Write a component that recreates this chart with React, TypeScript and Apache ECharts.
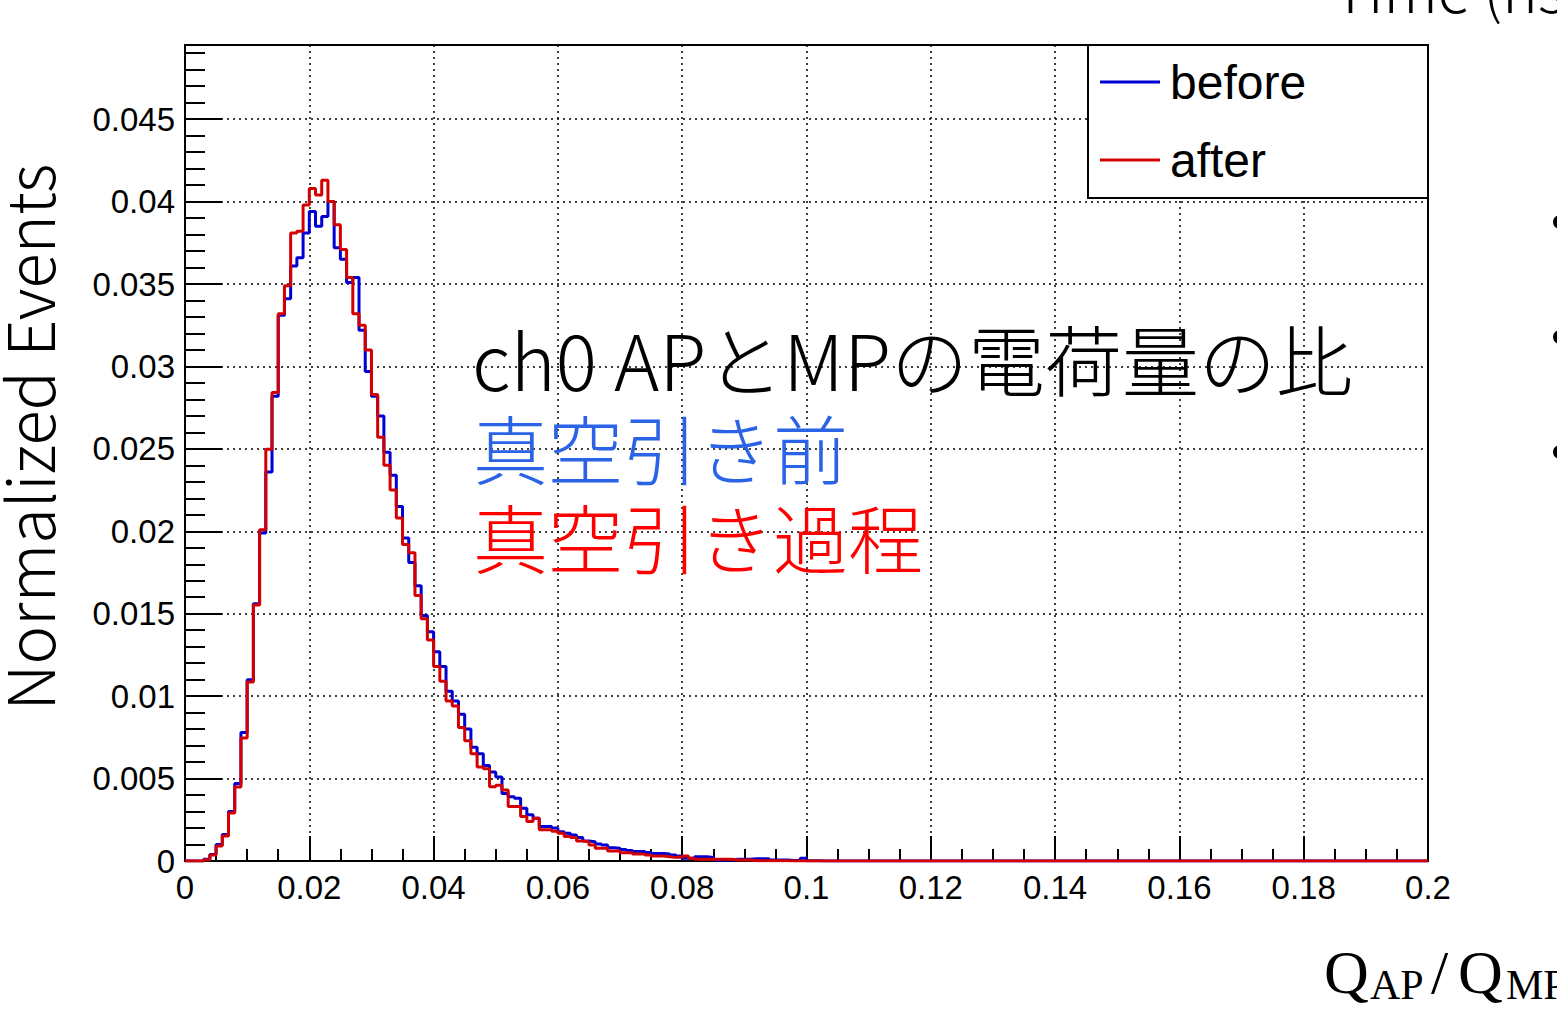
import React, { useEffect, useRef } from "react";
import * as echarts from "echarts";

// Histogram: bins of width 0.001 starting at 0 (bin i covers [i*0.001, (i+1)*0.001])
const BIN_WIDTH = 0.001;
const X_MIN = 0;
const X_MAX = 0.2;
const Y_MAX = 0.0495;

const beforeValues = [
  0, 0, 0, 0.0001, 0.0004, 0.001, 0.0016, 0.003, 0.0047, 0.0078,
  0.011, 0.0156, 0.0199, 0.0236, 0.0282, 0.0331, 0.0341, 0.0361, 0.0366, 0.0381,
  0.0394, 0.0385, 0.0391, 0.04, 0.0372, 0.0365, 0.0351, 0.0354, 0.0322, 0.0297,
  0.0282, 0.027, 0.0248, 0.0234, 0.0215, 0.0196, 0.0181, 0.0167, 0.0149, 0.0139,
  0.0127, 0.0118, 0.0103, 0.0097, 0.0089, 0.008, 0.0069, 0.0065, 0.0058, 0.0054,
  0.0051, 0.0041, 0.0039, 0.0038, 0.0032, 0.0028, 0.0026, 0.0021, 0.0021, 0.002,
  0.00178, 0.00168, 0.00157, 0.00143, 0.00121, 0.00117, 0.00103, 0.00097, 0.00081, 0.00077,
  0.0007, 0.00063, 0.00057, 0.00057, 0.00052, 0.00046, 0.00046, 0.00042, 0.00036, 0.0003,
  0.00016, 0.00016, 0.00026, 0.00026, 0.00022, 0.00006, 0.00006, 0.00006, 0.0001, 0.0001,
  0.0001, 0.00014, 0.00014, 0.00014, 0.00006, 0.00006, 0.00006, 0.00003, 0.00005, 0.00016,
  0.00002, 0.00002, 0, 0, 0, 0, 0, 0, 0, 0,
];

const afterValues = [
  0, 0, 0, 0.00008, 0.00036, 0.00091, 0.00152, 0.00291, 0.00449, 0.00746,
  0.01086, 0.01553, 0.0201, 0.02497, 0.02842, 0.0332, 0.0349, 0.0381, 0.0382, 0.0398,
  0.0408, 0.0404, 0.0413, 0.04, 0.0386, 0.0371, 0.0354, 0.0332, 0.0325, 0.031,
  0.0283, 0.0257, 0.024, 0.0225, 0.0208, 0.0192, 0.0187, 0.0161, 0.0147, 0.0134,
  0.0118, 0.0109, 0.0097, 0.0094, 0.0081, 0.0073, 0.0065, 0.0057, 0.0056, 0.0045,
  0.0046, 0.0043, 0.0033, 0.0033, 0.0027, 0.0024, 0.0026, 0.0019, 0.0019, 0.0018,
  0.00168, 0.00148, 0.00143, 0.00121, 0.00117, 0.00097, 0.00077, 0.00077, 0.0006, 0.0006,
  0.0005, 0.0005, 0.00042, 0.00042, 0.00036, 0.0003, 0.0003, 0.00026, 0.00022, 0.00022,
  0.0003, 0.00016, 0.0001, 0.0001, 0.0001, 0.0001, 0.0001, 0.0001, 0.00006, 0.00006,
  0.00006, 0.00002, 0.00002, 0.00002, 0.00002, 0.00002, 0.00002, 0, 0, 0,
  0, 0, 0, 0, 0, 0, 0, 0, 0, 0,
];

const seriesNames = ["before", "after"];
const xTickInterval = 0.02;
const yTickInterval = 0.005;
const yMinorInterval = 0.001;

const annotationLines = ["ch0 APとMPの電荷量の比", "真空引き前", "真空引き過程"];
const yAxisTitle = "Normalized Events";

const toSteps = (vals: number[]) => {
  const pts: number[][] = vals.map((v, i) => [X_MIN + i * BIN_WIDTH, v]);
  pts.push([X_MAX, 0]);
  return pts;
};

const fmt = (v: number, step: number) => {
  const r = Math.round(v * 100000) / 100000;
  const q = r / step;
  if (Math.abs(q - Math.round(q)) > 1e-6) return "";
  return String(r);
};

const SANS = "'Liberation Sans', Arial, Helvetica, sans-serif";
const JP = "'Noto Sans CJK JP', 'Noto Sans', sans-serif";
const SERIF = "'Liberation Serif', 'DejaVu Serif', serif";

export default function App() {
  const ref = useRef<HTMLDivElement>(null);
  useEffect(() => {
    if (!ref.current) return;
    const chart = echarts.init(ref.current, undefined, { renderer: "svg" });
    const gridL = 185, gridT = 45, gridW = 1243, gridH = 816;
    const txt = (text: string, x: number, y: number, size: number, fill: string, family: string, extra: any = {}, weight: any = "normal") => ({
      type: "text",
      x,
      y,
      z: 20,
      ...extra,
      style: {
        text,
        fill,
        fontSize: size,
        fontFamily: family,
        fontWeight: weight,
        textAlign: extra.align || "left",
        align: extra.align || "left",
        textVerticalAlign: "middle",
        verticalAlign: "middle",
      },
    });
    const option: any = {
      animation: false,
      backgroundColor: "#fff",
      grid: {
        left: gridL,
        top: gridT,
        width: gridW,
        height: gridH,
        show: true,
        borderColor: "#000",
        borderWidth: 2,
        backgroundColor: "transparent",
      },
      legend: {
        data: seriesNames,
        orient: "vertical",
        left: 1100,
        top: 58,
        icon: "rect",
        itemWidth: 60,
        itemHeight: 3,
        itemGap: 30,
        padding: 0,
        z: 30,
        textStyle: { fontSize: 48, fontFamily: SANS, color: "#000", lineHeight: 48, padding: [0, 0, 0, 5] },
      },
      xAxis: {
        type: "value",
        min: X_MIN,
        max: X_MAX,
        interval: xTickInterval,
        axisLine: { show: true, onZero: false, lineStyle: { color: "#000", width: 2 } },
        axisTick: { show: true, inside: true, length: 25, lineStyle: { color: "#000", width: 2 } },
        minorTick: { show: true, splitNumber: 4, length: 12, lineStyle: { color: "#000", width: 2 } },
        splitLine: { show: true, lineStyle: { color: "#000", width: 1.5, type: [2, 4] } },
        axisLabel: {
          margin: 10,
          fontSize: 33,
          fontFamily: SANS,
          color: "#000",
          formatter: (v: number) => fmt(v, xTickInterval),
        },
      },
      yAxis: [
        {
          type: "value",
          min: 0,
          max: Y_MAX,
          interval: yTickInterval,
          axisLine: { show: true, onZero: false, lineStyle: { color: "#000", width: 2 } },
          axisTick: { show: true, inside: true, length: 37, lineStyle: { color: "#000", width: 2 } },
          splitLine: { show: true, lineStyle: { color: "#000", width: 1.5, type: [2, 4] } },
          axisLabel: {
            margin: 10,
            fontSize: 33,
            fontFamily: SANS,
            color: "#000",
            formatter: (v: number) => fmt(v, yTickInterval),
          },
        },
        {
          type: "value",
          min: 0,
          max: Y_MAX,
          interval: yMinorInterval,
          position: "left",
          axisLine: { show: false },
          axisTick: { show: true, inside: true, length: 20, lineStyle: { color: "#000", width: 2 } },
          splitLine: { show: false },
          axisLabel: { show: false },
        },
      ],
      series: [
        {
          name: seriesNames[0],
          type: "line",
          step: "end",
          showSymbol: false,
          symbol: "none",
          color: "#0000d4",
          lineStyle: { color: "#0000d4", width: 3 },
          data: toSteps(beforeValues),
          z: 3,
        },
        {
          name: seriesNames[1],
          type: "line",
          step: "end",
          showSymbol: false,
          symbol: "none",
          color: "#d40000",
          lineStyle: { color: "#d40000", width: 3 },
          data: toSteps(afterValues),
          z: 4,
        },
      ],
      graphic: [
        {
          type: "rect",
          z: 10,
          shape: { x: 1088, y: 45, width: 340, height: 153 },
          style: { fill: "#fff", stroke: "#000", lineWidth: 2 },
        },
        txt(annotationLines[0], 472, 357, 77, "#000", JP, {}, 300),
        txt(annotationLines[1], 473, 446, 75, "#2b63e6", JP, {}, 300),
        txt(annotationLines[2], 473, 535, 75, "#ff0000", JP, {}, 300),
        txt(yAxisTitle, 27, 437, 65, "#000", JP, { rotation: Math.PI / 2, align: "center" }, 300),
        txt("Time (ns)", 1333, -14, 60, "#000", JP, {}, 300),
        txt("Q", 1324, 972, 62, "#000", SERIF),
        txt("AP", 1370, 985, 42, "#000", SERIF),
        txt("/", 1431, 972, 62, "#000", SERIF),
        txt("Q", 1458, 972, 62, "#000", SERIF),
        txt("MP", 1506, 985, 42, "#000", SERIF),
        { type: "circle", z: 20, shape: { cx: 1560, cy: 222, r: 7 }, style: { fill: "#000" } },
        { type: "circle", z: 20, shape: { cx: 1560, cy: 337, r: 7 }, style: { fill: "#000" } },
        { type: "circle", z: 20, shape: { cx: 1560, cy: 452, r: 7 }, style: { fill: "#000" } },
      ],
    };
    chart.setOption(option);
    return () => chart.dispose();
  }, []);
  return (
    <div
      ref={ref}
      style={{ position: "fixed", left: 0, top: 0, width: 1557, height: 1009, background: "#fff" }}
    />
  );
}
